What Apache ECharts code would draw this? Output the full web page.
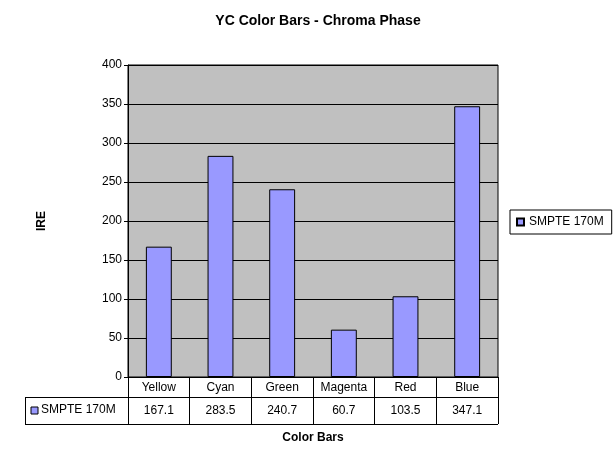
<!DOCTYPE html>
<html><head><meta charset="utf-8">
<script src="https://cdn.jsdelivr.net/npm/echarts@6/dist/echarts.min.js"></script>
<style>html,body{margin:0;padding:0;background:#fff}#c{width:615px;height:457px}</style>
</head><body><div id="c"></div>
<script>
const categories = ['Yellow','Cyan','Green','Magenta','Red','Blue'];
const seriesName = 'SMPTE 170M';
const values = [167.1, 283.5, 240.7, 60.7, 103.5, 347.1];
const F = 'Liberation Sans, Arial, sans-serif';
const chart = echarts.init(document.getElementById('c'));
const L=128, R=498, T=65, B=377;
chart.setOption({
  animation:false,
  textStyle:{fontFamily:F},
  title:{text:'YC Color Bars - Chroma Phase',left:313,top:9,textAlign:'center',
    textStyle:{fontSize:14,fontWeight:'bold',color:'#000',fontFamily:F}},
  grid:{left:L,right:615-R,top:T,bottom:457-B,show:true,backgroundColor:'#C0C0C0',borderColor:'#000',borderWidth:1},
  legend:{data:[seriesName],left:510,top:210,orient:'vertical',itemWidth:7,itemHeight:7,
    borderColor:'#000',borderWidth:1,padding:[6,8,6,6],itemGap:4,
    textStyle:{fontSize:12,color:'#000',fontFamily:F},icon:'rect'},
  xAxis:[{type:'category',data:categories,position:'bottom',
    axisLine:{lineStyle:{color:'#000'}},
    axisTick:{show:true,length:47,interval:0,lineStyle:{color:'#000'}},
    axisLabel:{color:'#000',fontSize:12,margin:5,interval:0}},
   {type:'category',data:values.map(v=>v.toFixed(1)),position:'bottom',
    axisLine:{show:false},axisTick:{show:false},
    axisLabel:{color:'#000',fontSize:12,margin:28,interval:0}}],
  yAxis:{type:'value',min:0,max:400,interval:50,name:'IRE',nameLocation:'middle',nameGap:80,
    nameTextStyle:{fontWeight:'bold',fontSize:12,color:'#000'},
    axisLine:{show:true,lineStyle:{color:'#000'}},axisTick:{show:true,length:4,lineStyle:{color:'#000'}},
    axisLabel:{color:'#000',fontSize:12,margin:6},
    splitLine:{lineStyle:{color:'#000',width:1}}},
  series:[{name:seriesName,type:'bar',data:values,barWidth:'42%',
    itemStyle:{color:'#9999FF',borderColor:'#000',borderWidth:1}}],
  graphic:[
    {type:'line',shape:{x1:25,y1:397.5,x2:R,y2:397.5},style:{stroke:'#000'}},
    {type:'line',shape:{x1:25,y1:424.5,x2:R,y2:424.5},style:{stroke:'#000'}},
    {type:'line',shape:{x1:25.5,y1:397,x2:25.5,y2:424},style:{stroke:'#000'}},
    {type:'rect',shape:{x:31,y:407,width:7,height:7},style:{fill:'#9999FF',stroke:'#000'}},
    {type:'text',x:41,y:404,style:{text:seriesName,fontSize:12,fontFamily:F,fill:'#000'}},
    {type:'text',x:313,y:432,style:{text:'Color Bars',fontSize:12,fontWeight:'bold',fontFamily:F,fill:'#000',align:'center'}}
  ]
});
</script></body></html>
